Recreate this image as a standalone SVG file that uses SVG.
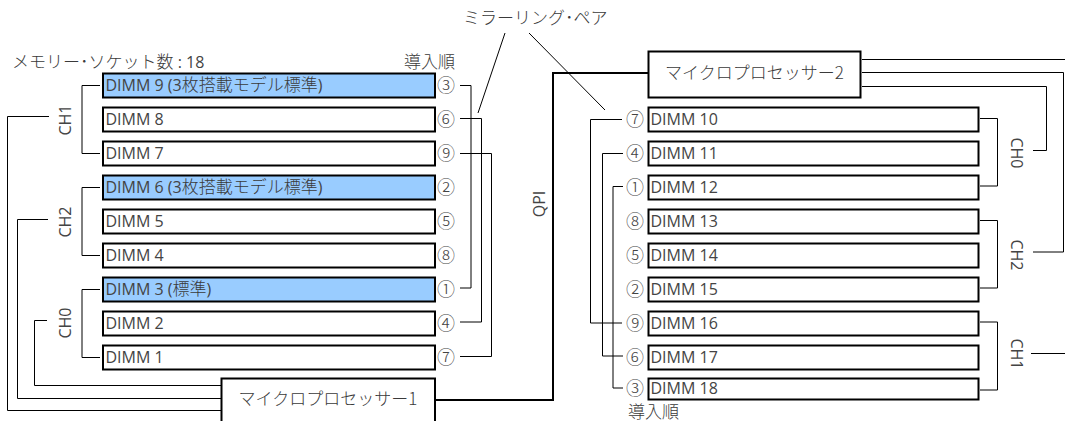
<svg xmlns="http://www.w3.org/2000/svg" width="1065" height="421" viewBox="0 0 1065 421">
<style>
text{font-family:"Open Sans","Noto Sans CJK JP",sans-serif;font-size:16px;fill:#444}
.k{font-family:"Noto Sans CJK JP",sans-serif;font-size:17px;font-weight:300;fill:#3a3a3a}
.n{font-family:"Noto Sans CJK JP",sans-serif;font-size:18px;font-weight:300;text-anchor:middle;fill:#444}
.d{fill:#fff;stroke:#000;stroke-width:2}
.b{fill:#9cf}
.c{fill:none;stroke:#000;stroke-width:1}
.q{fill:none;stroke:#000;stroke-width:2}
.m{text-anchor:middle}
</style>
<rect width="1065" height="421" fill="#fff"/>
<g id="connectors">
<path class="c" d="M82 85.500H100M82 85.500V153.500H100M82 187.500H100M82 187.500V255.500H100M82 289.500H100M82 289.500V357.500H100"/>
<path class="c" d="M49 116.500H7.500V410.500H222M48 219.500H17.500V398.500H222M47 320.500H34.500V385.500H222"/>
<path class="c" d="M460 85.500H471V288H460M460 118.500H481.500V322H460M460 153.500H491.500V356.500H460"/>
<path class="c" d="M505 33L478 113M529 33L605 110"/>
<path class="c" d="M622 119.500H590.500V323H622M623 153.500H602.500V356H623M623 186.500H613V388H623"/>
<path class="c" d="M980 118.500H997.500V186H980M980 220.500H997.500V288H980M980 322H997.500V390H980"/>
<path class="c" d="M862 59.500H1065M862 72.500H1063.500V252H1033M862 86.500H1046.500V150.500H1033M1031 353.500H1065"/>
<path class="q" d="M435 400H553V73H648"/>
</g>
<g id="proc1"><rect class="d" x="221.500" y="378.500" width="213.500" height="60"/><text class="m k" x="328" y="405">マイクロプロセッサー1</text></g>
<g id="proc2"><rect class="d" x="648.500" y="51.500" width="212" height="46"/><text class="m k" x="754.500" y="79">マイクロプロセッサー2</text></g>
<g id="dimm9"><rect class="d b" x="103" y="73.500" width="332" height="24"/><text x="105.500" y="91">DIMM 9 (3<tspan class="k">枚搭載モデル標準</tspan>)</text><text class="n" x="446" y="91.500">③</text></g>
<g id="dimm8"><rect class="d" x="103" y="107.500" width="332" height="24"/><text x="105.500" y="125">DIMM 8</text><text class="n" x="446" y="125.500">⑥</text></g>
<g id="dimm7"><rect class="d" x="103" y="141.500" width="332" height="24"/><text x="105.500" y="159">DIMM 7</text><text class="n" x="446" y="159.500">⑨</text></g>
<g id="dimm6"><rect class="d b" x="103" y="175.500" width="332" height="24"/><text x="105.500" y="193">DIMM 6 (3<tspan class="k">枚搭載モデル標準</tspan>)</text><text class="n" x="446" y="193.500">②</text></g>
<g id="dimm5"><rect class="d" x="103" y="209.500" width="332" height="24"/><text x="105.500" y="227">DIMM 5</text><text class="n" x="446" y="227.500">⑤</text></g>
<g id="dimm4"><rect class="d" x="103" y="243.500" width="332" height="24"/><text x="105.500" y="261">DIMM 4</text><text class="n" x="446" y="261.500">⑧</text></g>
<g id="dimm3"><rect class="d b" x="103" y="277.500" width="332" height="24"/><text x="105.500" y="295">DIMM 3 (<tspan class="k">標準</tspan>)</text><text class="n" x="446" y="295.500">①</text></g>
<g id="dimm2"><rect class="d" x="103" y="311.500" width="332" height="24"/><text x="105.500" y="329">DIMM 2</text><text class="n" x="446" y="329.500">④</text></g>
<g id="dimm1"><rect class="d" x="103" y="345.500" width="332" height="24"/><text x="105.500" y="363">DIMM 1</text><text class="n" x="446" y="363.500">⑦</text></g>
<g id="dimm10"><rect class="d" x="648.500" y="107.500" width="330" height="24"/><text x="650.500" y="125">DIMM 10</text><text class="n" x="635" y="125.500">⑦</text></g>
<g id="dimm11"><rect class="d" x="648.500" y="141.500" width="330" height="24"/><text x="650.500" y="159">DIMM 11</text><text class="n" x="635" y="159.500">④</text></g>
<g id="dimm12"><rect class="d" x="648.500" y="175.500" width="330" height="24"/><text x="650.500" y="193">DIMM 12</text><text class="n" x="635" y="193.500">①</text></g>
<g id="dimm13"><rect class="d" x="648.500" y="209.500" width="330" height="24"/><text x="650.500" y="227">DIMM 13</text><text class="n" x="635" y="227.500">⑧</text></g>
<g id="dimm14"><rect class="d" x="648.500" y="243.500" width="330" height="24"/><text x="650.500" y="261">DIMM 14</text><text class="n" x="635" y="261.500">⑤</text></g>
<g id="dimm15"><rect class="d" x="648.500" y="277.500" width="330" height="24"/><text x="650.500" y="295">DIMM 15</text><text class="n" x="635" y="295.500">②</text></g>
<g id="dimm16"><rect class="d" x="648.500" y="311.500" width="330" height="24"/><text x="650.500" y="329">DIMM 16</text><text class="n" x="635" y="329.500">⑨</text></g>
<g id="dimm17"><rect class="d" x="648.500" y="345.500" width="330" height="24"/><text x="650.500" y="363">DIMM 17</text><text class="n" x="635" y="363.500">⑥</text></g>
<g id="dimm18"><rect class="d" x="648.500" y="378.500" width="330" height="21"/><text x="650.500" y="394">DIMM 18</text><text class="n" x="635" y="394.500">③</text></g>
<g id="labels">
<text x="12" y="67.500"><tspan class="k">メモリー･ソケット数</tspan> : 18</text>
<text class="k" x="404" y="68">導入順</text>
<text class="k" x="628" y="418">導入順</text>
<text class="k" x="463" y="23.500">ミラーリング･ペア</text>
<text class="m" transform="translate(71 120) rotate(-90)">CH1</text>
<text class="m" transform="translate(71 222) rotate(-90)">CH2</text>
<text class="m" transform="translate(71 323) rotate(-90)">CH0</text>
<text class="m" transform="translate(545 204) rotate(-90)">QPI</text>
<text class="m" transform="translate(1011 153) rotate(90)">CH0</text>
<text class="m" transform="translate(1011 255) rotate(90)">CH2</text>
<text class="m" transform="translate(1011 354) rotate(90)">CH1</text>
</g>
</svg>
